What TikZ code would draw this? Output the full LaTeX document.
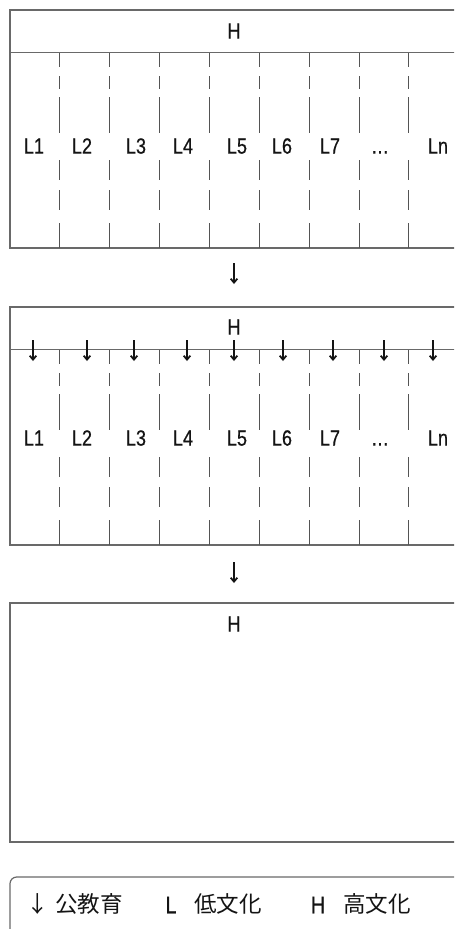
\documentclass[tikz,border=0pt]{standalone}
\usepackage{fontspec}
\setmainfont[FakeStretch=0.82, FakeBold=0.6]{Liberation Sans}
\newfontfamily\cjk{Noto Sans CJK JP}
\usetikzlibrary{arrows.meta}
\definecolor{framegray}{RGB}{105,105,105}
\definecolor{inkdark}{RGB}{20,20,20}
\newcommand{\cjkbig}{\cjk\fontsize{16.9}{19}\selectfont}
\newcommand{\latbig}{\fontsize{18}{20}\selectfont}

\begin{document}
\begin{tikzpicture}[x=0.75pt, y=0.75pt, font=\fontsize{16.5}{18}\selectfont, text=inkdark,
  frame/.style={draw=framegray, line width=0.9pt},
  colline/.style={draw=framegray!80!black, line width=0.6pt},
  pushdown/.style={-{Straight Barb[length=3pt,width=5pt]}, line width=1.3pt, draw=inkdark},
  lab/.style={inner sep=0pt}]

\useasboundingbox (0,0) rectangle (454,-929);
\clip (0,0) rectangle (454,-929);

% ==========================================
% PANELS 1 and 2: H over the columns L1 ... Ln
% ==========================================
\foreach \top/\laby/\p in {10/146/a, 307/438/b}{
  \begin{scope}[yshift=-\top*0.75pt]
    % frame and divider under H
    \draw[frame] (10,0) rectangle (470,-238);
    \draw[frame] (10,-42.5) -- (470,-42.5);
    % broken column lines
    \foreach \x in {59,109,159,209,259,309,359,408}
      \foreach \a/\b in {43/57, 66/79, 87/123, 150/170, 180/200, 213/238}
        \draw[colline] (\x,-\a) -- (\x,-\b);
  \end{scope}
  % column labels
  \foreach \t/\x [count=\i] in {L1/34, L2/82, L3/136, L4/183, L5/237, L6/282, L7/330, {.\kern0.5pt.\kern0.5pt.}/380, Ln/438}
    \node[lab, anchor=base] (col\p\i) at (\x,-\laby-7.6) {\t};
}

\node[lab] (hightop) at (234,-31) {H};
\node[lab] (highmid) at (234,-327) {H};

% push-down arrows crossing the divider
\foreach \x [count=\i] in {33,87,134,187,234,283,333,384,433}{
  \coordinate (ps\i) at (\x,-340);
  \coordinate (pe\i) at (\x,-361);
  \draw[pushdown] (ps\i) -- (pe\i);
}

% arrows between the panels
\coordinate (stepa) at (234,-263);
\coordinate (stepb) at (234,-284);
\draw[pushdown] (stepa) -- (stepb);
\coordinate (stepc) at (234,-562);
\coordinate (stepd) at (234,-583);
\draw[pushdown] (stepc) -- (stepd);

% ==========================================
% PANEL 3: only H
% ==========================================
\draw[frame] (10,-603) rectangle (470,-842);
\node[lab] (highend) at (234,-624) {H};

% ==========================================
% LEGEND
% ==========================================
\draw[frame, rounded corners=5pt] (10,-960) -- (10,-877) -- (470,-877);
\node[lab] (legpush) at (37.5,-904) {\cjkbig ↓};
\node[lab] (legpushtxt) at (89,-904) {\cjkbig 公教育};
\node[lab] (leglow) at (171,-905) {\latbig L};
\node[lab] (leglowtxt) at (228,-904) {\cjkbig 低文化};
\node[lab] (leghigh) at (318,-905) {\latbig H};
\node[lab] (leghightxt) at (377,-904) {\cjkbig 高文化};

\end{tikzpicture}
\end{document}
